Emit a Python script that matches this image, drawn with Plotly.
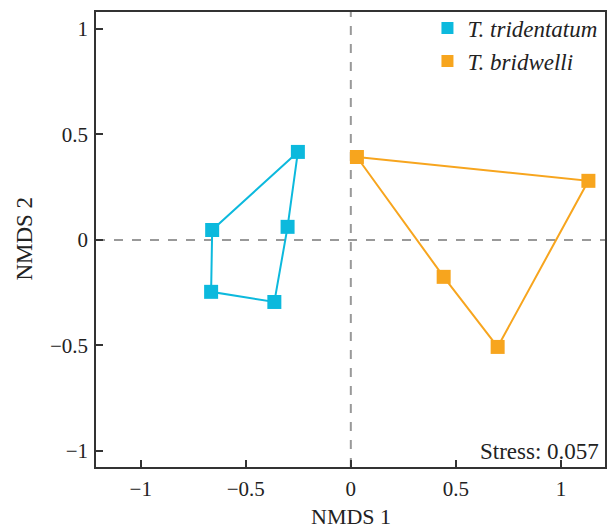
import plotly.graph_objects as go

# Data (hull order)
tri_x = [-0.252, -0.66, -0.665, -0.364, -0.301]
tri_y = [0.417, 0.047, -0.246, -0.294, 0.062]
bri_x = [0.029, 1.131, 0.699, 0.442]
bri_y = [0.393, 0.28, -0.507, -0.175]

names = ["T. tridentatum", "T. bridwelli"]
colors = ["#0cb9dd", "#f7a51e"]
xticks = [-1, -0.5, 0, 0.5, 1]
yticks = [-1, -0.5, 0, 0.5, 1]
stress_label = "Stress: 0.057"
x_title = "NMDS 1"
y_title = "NMDS 2"

FONT = "Liberation Serif"

fig = go.Figure()
for xs, ys, name, col in [(tri_x, tri_y, names[0], colors[0]), (bri_x, bri_y, names[1], colors[1])]:
    fig.add_trace(go.Scatter(x=xs + xs[:1], y=ys + ys[:1], mode="lines",
                             line=dict(color=col, width=2), showlegend=False, hoverinfo="skip"))
for xs, ys, name, col in [(tri_x, tri_y, names[0], colors[0]), (bri_x, bri_y, names[1], colors[1])]:
    fig.add_trace(go.Scatter(x=xs, y=ys, mode="markers", name=f"<i>{name}</i>",
                             marker=dict(symbol="square", size=14, color=col, line=dict(width=0))))

fig.add_shape(type="line", xref="x", yref="paper", x0=0, x1=0, y0=0, y1=1,
              line=dict(color="#999999", width=2, dash="dash"), layer="below")
fig.add_shape(type="line", xref="paper", yref="y", x0=0, x1=1, y0=0, y1=0,
              line=dict(color="#999999", width=2, dash="dash"), layer="below")

fig.add_annotation(text=stress_label, xref="paper", yref="paper", x=0.993, y=0.003,
                   xanchor="right", yanchor="bottom", showarrow=False,
                   font=dict(family=FONT, size=23, color="#222"))
fig.add_annotation(text=x_title, xref="x", yref="paper", x=0, y=0,
                   xanchor="center", yanchor="middle", yshift=-49, showarrow=False,
                   font=dict(family=FONT, size=22, color="#222"))
fig.add_annotation(text=y_title, xref="paper", yref="paper", x=0, y=0.502,
                   xanchor="center", yanchor="middle", xshift=-71, textangle=-90, showarrow=False,
                   font=dict(family=FONT, size=23, color="#222"))

axis_common = dict(showline=True, linecolor="#333333", linewidth=1.5, mirror=True,
                   ticks="inside", ticklen=7, tickcolor="#333333", tickwidth=1.5,
                   showgrid=False, zeroline=False, automargin=False,
                   tickfont=dict(family=FONT, size=21, color="#222"))

fig.update_layout(
    width=609, height=527,
    margin=dict(l=96, r=4, t=12, b=60, autoexpand=False),
    plot_bgcolor="white", paper_bgcolor="white",
    xaxis=dict(range=[-1.213, 1.21], tickvals=xticks, ticktext=[str(v).replace("-", "\u2212") for v in xticks],
               ticklabelstandoff=2, **axis_common),
    yaxis=dict(range=[-1.076, 1.08], tickvals=yticks, ticktext=[str(v).replace("-", "\u2212") for v in yticks],
               ticklabelstandoff=2, **axis_common),
    legend=dict(x=0.995, y=1.012, xanchor="right", yanchor="top", bgcolor="rgba(0,0,0,0)",
                font=dict(family=FONT, size=23, color="#222"), itemsizing="constant",
                tracegroupgap=0),
    showlegend=True,
)

fig.write_html("out.html")
